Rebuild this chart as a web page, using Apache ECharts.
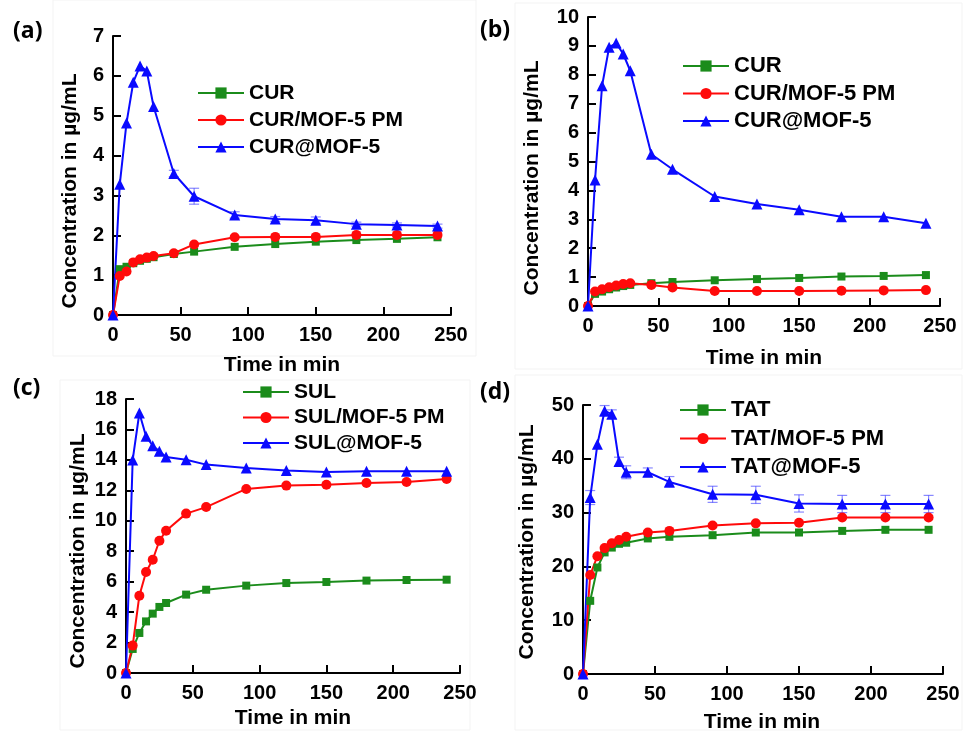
<!DOCTYPE html>
<html>
<head>
<meta charset="utf-8">
<script src="https://cdn.jsdelivr.net/npm/echarts@6/dist/echarts.min.js"></script>
<style>
  html, body { margin: 0; padding: 0; background: #fff; }
  #chart { width: 963px; height: 731px; }
</style>
</head>
<body>
<div id="chart"></div>
<script>
// Sampling times (min), shared by all four release profiles
const times = [0, 5, 10, 15, 20, 25, 30, 45, 60, 90, 120, 150, 180, 210, 240];

// (a) curcumin, first medium
const curA    = [0, 1.15, 1.21, 1.30, 1.36, 1.41, 1.45, 1.53, 1.59, 1.71, 1.78, 1.84, 1.88, 1.91, 1.95];
const curPmA  = [0, 0.98, 1.09, 1.32, 1.40, 1.44, 1.48, 1.55, 1.77, 1.95, 1.96, 1.96, 2.01, 2.01, 2.01];
const curMofA = [0, 3.28, 4.82, 5.84, 6.25, 6.12, 5.23, 3.55, 2.98, 2.51, 2.41, 2.38, 2.28, 2.26, 2.23];
const curMofAErr = [0, 0, 0, 0, 0, 0, 0, 0.08, 0.2, 0.08, 0.06, 0.08, 0.05, 0.05, 0.05];

// (b) curcumin, second medium
const curB    = [0, 0.42, 0.50, 0.58, 0.64, 0.69, 0.73, 0.79, 0.83, 0.89, 0.93, 0.97, 1.02, 1.04, 1.07];
const curPmB  = [0, 0.50, 0.58, 0.65, 0.71, 0.76, 0.79, 0.73, 0.64, 0.52, 0.52, 0.52, 0.53, 0.54, 0.55];
const curMofB = [0, 4.36, 7.62, 8.95, 9.10, 8.72, 8.14, 5.25, 4.73, 3.79, 3.53, 3.33, 3.09, 3.09, 2.86];

// (c) sulfasalazine
const sulC    = [0, 1.58, 2.63, 3.39, 3.90, 4.34, 4.60, 5.15, 5.47, 5.74, 5.91, 5.98, 6.07, 6.11, 6.13];
const sulPmC  = [0, 1.80, 5.08, 6.63, 7.44, 8.69, 9.35, 10.47, 10.90, 12.09, 12.31, 12.37, 12.48, 12.55, 12.74];
const sulMofC = [0, 14.0, 17.08, 15.55, 14.93, 14.56, 14.19, 14.01, 13.69, 13.47, 13.31, 13.20, 13.25, 13.25, 13.25];

// (d) TAT
const tatD    = [0, 13.6, 19.8, 22.6, 23.5, 24.2, 24.4, 25.2, 25.5, 25.8, 26.3, 26.3, 26.6, 26.8, 26.8];
const tatPmD  = [0, 18.4, 21.9, 23.4, 24.3, 24.9, 25.5, 26.3, 26.6, 27.6, 28.0, 28.1, 29.1, 29.1, 29.1];
const tatMofD = [0, 32.8, 42.7, 48.9, 48.3, 39.5, 37.5, 37.5, 35.7, 33.4, 33.3, 31.7, 31.6, 31.6, 31.6];
const tatMofDErr = [0, 1.3, 0, 1.0, 0.8, 0.8, 1.2, 0.8, 1.0, 1.5, 1.6, 1.6, 1.6, 1.6, 1.6];

// Axis settings per panel
const yMax = [7, 10, 18, 50];
const yStep = [1, 1, 2, 10];
const panelLetters = ['(a)', '(b)', '(c)', '(d)'];
const legendNames = [
  ['CUR', 'CUR/MOF-5 PM', 'CUR@MOF-5'],
  ['CUR', 'CUR/MOF-5 PM', 'CUR@MOF-5'],
  ['SUL', 'SUL/MOF-5 PM', 'SUL@MOF-5'],
  ['TAT', 'TAT/MOF-5 PM', 'TAT@MOF-5']
];
const xTitle = 'Time in min';
const yTitle = 'Concentration in µg/mL';

const FONT = '"Liberation Sans", Arial, sans-serif';
const GREEN = '#1b8c1b', RED = '#ff0a0a', BLUE = '#0a0aff';

const grids = [
  { left: 113, top: 36, width: 338, height: 279 },
  { left: 588, top: 17, width: 352, height: 289 },
  { left: 126, top: 399, width: 334, height: 274 },
  { left: 583, top: 405, width: 360, height: 269 }
];

const pair = v => times.map((t, i) => [t, v[i]]);

function lineSeries(name, values, gi, color, symbol, size) {
  return {
    type: 'line', name, xAxisIndex: gi, yAxisIndex: gi,
    data: pair(values),
    symbol, symbolSize: size,
    lineStyle: { color, width: 2 },
    itemStyle: { color },
    z: 3
  };
}

function errorSeries(name, values, errs, gi) {
  return {
    type: 'custom', name, xAxisIndex: gi, yAxisIndex: gi,
    data: times.map((t, i) => [t, values[i], errs[i]]),
    encode: { x: 0, y: 1 },
    z: 2,
    renderItem(params, api) {
      const x = api.value(0), y = api.value(1), e = api.value(2);
      if (!e) return null;
      const hi = api.coord([x, y + e]);
      const lo = api.coord([x, y - e]);
      const hw = 5;
      const st = { stroke: 'rgba(40,40,255,0.55)', lineWidth: 1.2 };
      return {
        type: 'group',
        children: [
          { type: 'line', shape: { x1: hi[0], y1: hi[1], x2: lo[0], y2: lo[1] }, style: st },
          { type: 'line', shape: { x1: hi[0] - hw, y1: hi[1], x2: hi[0] + hw, y2: hi[1] }, style: st },
          { type: 'line', shape: { x1: lo[0] - hw, y1: lo[1], x2: lo[0] + hw, y2: lo[1] }, style: st }
        ]
      };
    }
  };
}

const axisCommon = {
  axisLine: { show: true, onZero: false, lineStyle: { color: '#000', width: 2 } },
  axisTick: { show: true, inside: true, length: 8, lineStyle: { color: '#000', width: 2 } },
  splitLine: { show: false }
};

const xAxes = grids.map((g, i) => Object.assign({
  gridIndex: i, type: 'value', min: 0, max: 250, interval: 50,
  axisLabel: { color: '#000', fontSize: 20, fontWeight: 'bold', fontFamily: FONT, margin: 10 }
}, axisCommon));

const yAxes = grids.map((g, i) => Object.assign({
  gridIndex: i, type: 'value', min: 0, max: yMax[i], interval: yStep[i],
  axisLabel: { color: '#000', fontSize: 20, fontWeight: 'bold', fontFamily: FONT, margin: 9 }
}, axisCommon));

const series = [
  lineSeries(legendNames[0][0], curA, 0, GREEN, 'rect', 8),
  lineSeries(legendNames[0][1], curPmA, 0, RED, 'circle', 10),
  errorSeries('CUR@MOF-5 SD', curMofA, curMofAErr, 0),
  lineSeries(legendNames[0][2], curMofA, 0, BLUE, 'triangle', 11),

  lineSeries(legendNames[1][0], curB, 1, GREEN, 'rect', 8),
  lineSeries(legendNames[1][1], curPmB, 1, RED, 'circle', 10),
  lineSeries(legendNames[1][2], curMofB, 1, BLUE, 'triangle', 11),

  lineSeries(legendNames[2][0], sulC, 2, GREEN, 'rect', 8),
  lineSeries(legendNames[2][1], sulPmC, 2, RED, 'circle', 10),
  lineSeries(legendNames[2][2], sulMofC, 2, BLUE, 'triangle', 11),

  lineSeries(legendNames[3][0], tatD, 3, GREEN, 'rect', 8),
  lineSeries(legendNames[3][1], tatPmD, 3, RED, 'circle', 10),
  errorSeries('TAT@MOF-5 SD', tatMofD, tatMofDErr, 3),
  lineSeries(legendNames[3][2], tatMofD, 3, BLUE, 'triangle', 11)
];

const legendPos = [
  { left: 197, top: 82.5, itemGap: 6, size: 21 },
  { left: 682, top: 55, itemGap: 5.5, size: 22 },
  { left: 242, top: 381.5, itemGap: 4.5, size: 21 },
  { left: 679, top: 399, itemGap: 6.5, size: 22 }
];
const legends = legendPos.map((p, i) => ({
  orient: 'vertical', left: p.left, top: p.top, itemGap: p.itemGap,
  itemWidth: 46, itemHeight: 14, padding: 0, selectedMode: false,
  data: legendNames[i],
  textStyle: { color: '#000', fontSize: p.size, fontWeight: 'bold', fontFamily: FONT }
}));

// Panel frames, letters and axis titles
const frames = [
  { x: 53, y: 0, width: 423, height: 356 },
  { x: 515, y: 3, width: 447, height: 366 },
  { x: 60, y: 380, width: 410, height: 350 },
  { x: 515, y: 375, width: 447, height: 355 }
];
const letterPos = [[13, 31], [480, 30], [13, 388], [480, 392]];
const xTitlePos = [[282, 365], [764, 358], [293, 718], [762, 722]];
const yTitlePos = [[70, 191], [532, 178], [78, 551], [527, 542]];

const graphic = [];
frames.forEach(f => graphic.push({
  type: 'rect', shape: f, z: -10, silent: true,
  style: { fill: 'none', stroke: '#f3f3f3', lineWidth: 1 }
}));
letterPos.forEach((p, i) => graphic.push({
  type: 'text', x: p[0], y: p[1],
  style: { text: panelLetters[i], font: 'bold 23px "Open Sans", sans-serif', fill: '#000',
           textAlign: 'left', textVerticalAlign: 'middle' }
}));
xTitlePos.forEach(p => graphic.push({
  type: 'text', x: p[0], y: p[1],
  style: { text: xTitle, font: 'bold 21px ' + FONT, fill: '#000',
           textAlign: 'center', textVerticalAlign: 'middle' }
}));
yTitlePos.forEach(p => graphic.push({
  type: 'text', x: p[0], y: p[1], rotation: Math.PI / 2,
  style: { text: yTitle, font: 'bold 21px ' + FONT, fill: '#000',
           textAlign: 'center', textVerticalAlign: 'middle' }
}));

const chart = echarts.init(document.getElementById('chart'), null, { renderer: 'canvas' });
chart.setOption({
  animation: false,
  backgroundColor: '#fff',
  grid: grids,
  xAxis: xAxes,
  yAxis: yAxes,
  legend: legends,
  series,
  graphic
});
</script>
</body>
</html>
